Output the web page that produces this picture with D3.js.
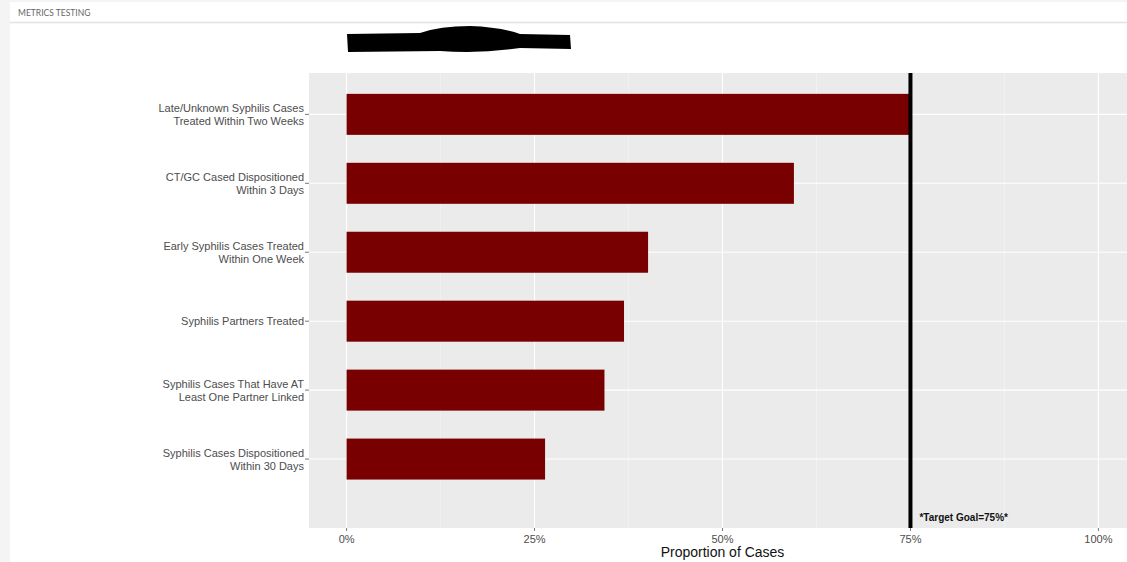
<!DOCTYPE html>
<html>
<head>
<meta charset="utf-8">
<script src="https://cdn.jsdelivr.net/npm/d3@7"></script>
<style>
  body { margin: 0; background: #fff; }
  svg { display: block; font-family: "Liberation Sans", Arial, sans-serif; }
</style>
</head>
<body>
<div class="canvas"></div>
<script>
// Data
const categories = [
    ["Late/Unknown Syphilis Cases", "Treated Within Two Weeks"],
    ["CT/GC Cased Dispositioned", "Within 3 Days"],
    ["Early Syphilis Cases Treated", "Within One Week"],
    ["Syphilis Partners Treated"],
    ["Syphilis Cases That Have AT", "Least One Partner Linked"],
    ["Syphilis Cases Dispositioned", "Within 30 Days"]
];
const values = [0.75, 0.595, 0.401, 0.369, 0.343, 0.264];
const xTicks = [0, 0.25, 0.5, 0.75, 1];
const target = 0.75;

const width = 1127, height = 562;
const panel = { left: 309, right: 1136, top: 73, bottom: 528 };

const svg = d3.select('.canvas')
    .append('svg')
    .attr('width', width)
    .attr('height', height);

// dashboard frame
svg.append('rect').attr('x', 0).attr('y', 0).attr('width', width).attr('height', height).attr('fill', '#f4f4f4');
svg.append('rect').attr('x', 10).attr('y', 2).attr('width', width - 10).attr('height', height).attr('fill', '#fff');
svg.append('line').attr('x1', 10).attr('x2', width).attr('y1', 22.5).attr('y2', 22.5)
    .attr('stroke', '#e2e2e2').attr('stroke-width', 1.5);
svg.append('text').attr('x', 18).attr('y', 16)
    .attr('font-size', 8.5).attr('fill', '#666').attr('font-family', 'Lato, sans-serif')
    .text('METRICS TESTING');

// redacted title
svg.append('path')
    .attr('d', 'M347,34 L420,33 Q440,26 470,26 Q500,27 520,34 L570,35 L571,49 L520,48 Q480,54 440,51 L348,52 Z')
    .attr('fill', '#000');

const x = d3.scaleLinear().domain([-0.05, 1.05]).range([panel.left, panel.right]);
const y = d3.scaleLinear().domain([-0.6, 6]).range([panel.top, panel.bottom]);

const g = svg.append('g');
g.append('rect')
    .attr('x', panel.left).attr('y', panel.top)
    .attr('width', width - panel.left).attr('height', panel.bottom - panel.top)
    .attr('fill', '#ebebeb');

// grid
const minor = d3.range(0.125, 1.05, 0.25);
g.selectAll('.minor').data(minor).join('line')
    .attr('x1', d => x(d)).attr('x2', d => x(d))
    .attr('y1', panel.top).attr('y2', panel.bottom)
    .attr('stroke', '#f5f5f5').attr('stroke-width', 0.6);
g.selectAll('.vmajor').data(xTicks).join('line')
    .attr('x1', d => x(d)).attr('x2', d => x(d))
    .attr('y1', panel.top).attr('y2', panel.bottom)
    .attr('stroke', '#fff').attr('stroke-width', 1.1);
g.selectAll('.hmajor').data(categories).join('line')
    .attr('x1', panel.left).attr('x2', width)
    .attr('y1', (d, i) => y(i)).attr('y2', (d, i) => y(i))
    .attr('stroke', '#fff').attr('stroke-width', 1.1);

// bars
const barH = 41;
g.selectAll('.bar').data(values).join('rect')
    .attr('x', x(0))
    .attr('y', (d, i) => y(i) - barH / 2)
    .attr('width', d => x(d) - x(0))
    .attr('height', barH)
    .attr('fill', '#780000');

// target line
g.append('line')
    .attr('x1', x(target)).attr('x2', x(target))
    .attr('y1', panel.top).attr('y2', panel.bottom)
    .attr('stroke', '#000').attr('stroke-width', 4);
g.append('text')
    .attr('x', x(target) + 9).attr('y', panel.bottom - 7)
    .attr('font-size', 10).attr('font-weight', 'bold').attr('fill', '#111')
    .text('*Target Goal=75%*');

// y axis labels
const yl = svg.append('g');
categories.forEach((lines, i) => {
    const t = yl.append('text')
        .attr('text-anchor', 'end')
        .attr('font-size', 11).attr('fill', '#4d4d4d');
    const y0 = y(i) - (lines.length - 1) * 6.5 + 4;
    lines.forEach((s, j) => {
        t.append('tspan').attr('x', 304).attr('y', y0 + j * 13).text(s);
    });
    yl.append('line').attr('x1', 305).attr('x2', panel.left)
        .attr('y1', y(i)).attr('y2', y(i)).attr('stroke', '#555').attr('stroke-width', 0.8);
});

// x axis
const xl = svg.append('g');
xl.selectAll('line').data(xTicks).join('line')
    .attr('x1', d => x(d)).attr('x2', d => x(d))
    .attr('y1', panel.bottom).attr('y2', panel.bottom + 3)
    .attr('stroke', '#555').attr('stroke-width', 0.8);
xl.selectAll('text').data(xTicks).join('text')
    .attr('x', d => x(d)).attr('y', panel.bottom + 15)
    .attr('text-anchor', 'middle')
    .attr('font-size', 11).attr('fill', '#4d4d4d')
    .text(d3.format('.0%'));

svg.append('text')
    .attr('x', x(0.5)).attr('y', 557)
    .attr('text-anchor', 'middle')
    .attr('font-size', 14).attr('fill', '#111')
    .text('Proportion of Cases');
</script>
</body>
</html>
